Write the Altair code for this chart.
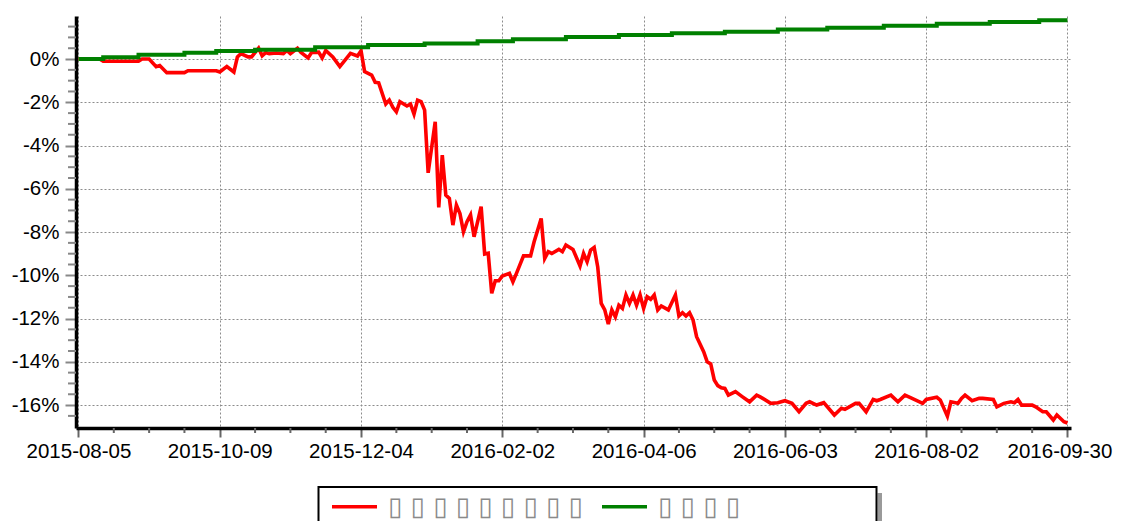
import altair as alt
import pandas as pd

# ---- data (trading-day index, cumulative return in %) ----
RED_NAME = "\u25af \u25af \u25af \u25af \u25af \u25af \u25af \u25af \u25af"
GREEN_NAME = "\u25af \u25af \u25af \u25af"

tick_labels = ["2015-08-05", "2015-10-09", "2015-12-04", "2016-02-02",
               "2016-04-06", "2016-06-03", "2016-08-02", "2016-09-30"]

red_day = [0, 6, 7, 17, 18, 20, 22, 23, 25, 30, 31, 39, 40, 42, 44, 45, 46, 48, 49, 51,
           52, 53, 54, 56, 58, 59, 60, 62, 63, 65, 66, 68, 69, 70, 72, 74, 77, 79, 80, 81,
           83, 84, 85, 87, 88, 89, 90, 91, 93, 94, 95, 96, 97, 98, 99, 101, 102, 103, 104, 105,
           106, 107, 108, 109, 110, 111, 112, 114, 115, 116, 117, 118, 119, 120, 122, 123, 124, 126, 128, 129,
           131, 132, 133, 134, 136, 137, 138, 140, 142, 143, 144, 145, 146, 147, 148, 149, 150, 151, 152, 153,
           154, 155, 156, 157, 158, 159, 160, 161, 162, 163, 164, 165, 167, 169, 170, 171, 172, 173, 174, 175,
           177, 178, 179, 180, 181, 182, 183, 184, 186, 188, 190, 192, 193, 196, 198, 200, 202, 204, 206, 207,
           209, 211, 214, 216, 217, 220, 221, 223, 225, 226, 227, 230, 232, 234, 236, 239, 240, 243, 244, 246,
           247, 249, 250, 251, 253, 255, 256, 259, 260, 262, 264, 265, 266, 267, 270, 271, 273, 274, 276, 277,
           279, 280]
red_val = [0.0, 0.0, -0.1, -0.1, 0.0, 0.0, -0.35, -0.3, -0.63, -0.63, -0.54, -0.54, -0.6, -0.35, -0.6, 0.1, 0.25, 0.1, 0.1, 0.5,
           0.15, 0.3, 0.25, 0.28, 0.25, 0.4, 0.25, 0.5, 0.3, 0.05, 0.3, 0.32, 0.05, 0.4, 0.1, -0.35, 0.26, 0.14, 0.38, -0.58,
           -0.74, -1.08, -1.1, -2.08, -1.9, -2.23, -2.44, -1.97, -2.17, -2.08, -2.54, -1.9, -1.97, -2.36, -5.26, -2.9, -6.86, -4.44, -6.29, -6.44,
           -7.68, -6.75, -7.14, -7.99, -7.52, -7.21, -8.22, -6.83, -9.02, -8.98, -10.83, -10.25, -10.25, -10.03, -9.91, -10.3, -9.91, -9.1, -9.1, -8.45,
           -7.37, -9.22, -8.91, -8.99, -8.8, -8.91, -8.6, -8.8, -9.57, -8.99, -9.37, -8.83, -8.71, -9.6, -11.3, -11.6, -12.25, -11.6, -11.92, -11.38,
           -11.53, -10.91, -11.3, -10.91, -11.38, -10.91, -11.53, -10.99, -11.11, -10.91, -11.6, -11.42, -11.6, -10.91, -11.88, -11.73, -11.88, -11.73, -12.07, -12.84,
           -13.53, -14.0, -14.1, -14.84, -15.1, -15.2, -15.23, -15.54, -15.38, -15.62, -15.85, -15.54, -15.62, -15.92, -15.89, -15.8, -15.92, -16.31, -15.92, -15.85,
           -16.0, -15.89, -16.46, -16.15, -16.2, -15.92, -15.92, -16.31, -15.74, -15.8, -15.74, -15.54, -15.85, -15.54, -15.69, -15.92, -15.74, -15.64, -15.77, -16.51,
           -15.85, -15.92, -15.69, -15.54, -15.8, -15.69, -15.69, -15.74, -16.08, -15.92, -15.85, -15.89, -15.74, -16.0, -16.0, -16.08, -16.31, -16.31, -16.69, -16.46,
           -16.77, -16.83]

green_day = [0, 7, 17, 30, 39, 50, 67, 82, 98, 113, 123, 138, 153, 168, 183, 198, 212, 228, 243, 258, 272, 280]
green_val = [0.0, 0.08, 0.20, 0.29, 0.37, 0.43, 0.54, 0.65, 0.72, 0.82, 0.91, 1.02, 1.11, 1.19, 1.26, 1.37, 1.45,
             1.54, 1.63, 1.71, 1.79, 1.79]

assert len(red_day) == len(red_val)
assert len(green_day) == len(green_val)

major_x = list(range(0, 281, 40))
minor_x = [d for d in range(10, 280, 10) if d % 40 != 0]
major_y = [-16, -14, -12, -10, -8, -6, -4, -2, 0]
minor_y = [v / 2 for v in range(-33, 4) if v % 4 != 0]

red_df = pd.DataFrame({"day": red_day, "value": red_val, "series": RED_NAME})
green_df = pd.DataFrame({"day": green_day, "value": green_val, "series": GREEN_NAME})

# ---- scales / axes ----
W, H = 995, 412
x_scale = alt.Scale(domain=[-0.7, 281], nice=False, zero=False)
y_scale = alt.Scale(domain=[-17.06, 1.99], nice=False, zero=False)

label_arr = "[" + ",".join("'" + s + "'" for s in tick_labels) + "]"
x_axis = alt.Axis(values=major_x, labelExpr=label_arr + "[round(datum.value/40)]",
                  title=None, grid=True, gridDash=[2, 2], gridColor="#8c8c8c", gridWidth=1,
                  domainColor="black", domainWidth=3.5, tickSize=9, tickColor="#666666",
                  tickWidth=2, labelFont="Liberation Sans", labelFontSize=20.5, labelColor="black",
                  labelPadding=4, labelOverlap=False, labelBound=False, labelFlush=False,
                  labelOffset=alt.condition("datum.value >= 280", alt.value(-8), alt.value(0)))
y_axis = alt.Axis(values=major_y, labelExpr="datum.value + '%'",
                  title=None, grid=True, gridDash=[2, 2], gridColor="#8c8c8c", gridWidth=1,
                  domainColor="black", domainWidth=3.5, tickSize=11, tickColor="#888888",
                  tickWidth=2, labelFont="Liberation Sans", labelFontSize=20.5, labelColor="black",
                  labelPadding=6, labelOverlap=False, labelBound=False, labelFlush=False)

color = alt.Color(
    "series:N",
    scale=alt.Scale(domain=[RED_NAME, GREEN_NAME], range=["#ff0000", "#008000"]),
    legend=alt.Legend(title=None, orient="none", legendX=254, legendY=466,
                      direction="horizontal", symbolType="stroke", symbolSize=2025,
                      symbolStrokeWidth=3.5, labelFont="DejaVu Sans", labelFontSize=26,
                      labelColor="#8a8a8a", labelOffset=9, labelLimit=500,
                      columnPadding=12, padding=0),
)

red_line = alt.Chart(red_df).mark_line(strokeWidth=3.6).encode(
    x=alt.X("day:Q", scale=x_scale, axis=x_axis),
    y=alt.Y("value:Q", scale=y_scale, axis=y_axis),
    color=color,
)
green_line = alt.Chart(green_df).mark_line(strokeWidth=4, interpolate="step-after").encode(
    x=alt.X("day:Q", scale=x_scale, axis=x_axis),
    y=alt.Y("value:Q", scale=y_scale, axis=y_axis),
    color=color,
)

y_minor = alt.Chart(pd.DataFrame({"value": minor_y})).mark_rule(color="#888888", strokeWidth=2).encode(
    y=alt.Y("value:Q", scale=y_scale, axis=y_axis),
    x=alt.value(-8), x2=alt.value(0),
)
x_minor = alt.Chart(pd.DataFrame({"day": minor_x})).mark_rule(color="#666666", strokeWidth=2).encode(
    x=alt.X("day:Q", scale=x_scale, axis=x_axis),
    y=alt.value(H), y2=alt.value(H + 5),
)

legend_box = alt.Chart(alt.Data(values=[{"k": 1}])).mark_rect(
    fill="white", fillOpacity=0, stroke="black", strokeWidth=2).encode(
    x=alt.value(242.5), x2=alt.value(800.5), y=alt.value(471), y2=alt.value(530))
legend_shadow = alt.Chart(alt.Data(values=[{"k": 1}])).mark_rect(fill="#9a9a9a").encode(
    x=alt.value(801.5), x2=alt.value(806), y=alt.value(477), y2=alt.value(530))

chart = alt.layer(y_minor, x_minor, legend_shadow, legend_box, red_line, green_line).properties(
    width=W, height=H,
    autosize=alt.AutoSizeParams(type="none"),
    padding={"left": 68, "top": 8, "right": 44, "bottom": 93},
    background="white",
).configure_view(strokeWidth=0)

chart.save("out.html", embed_options={"renderer": "svg", "actions": False})
